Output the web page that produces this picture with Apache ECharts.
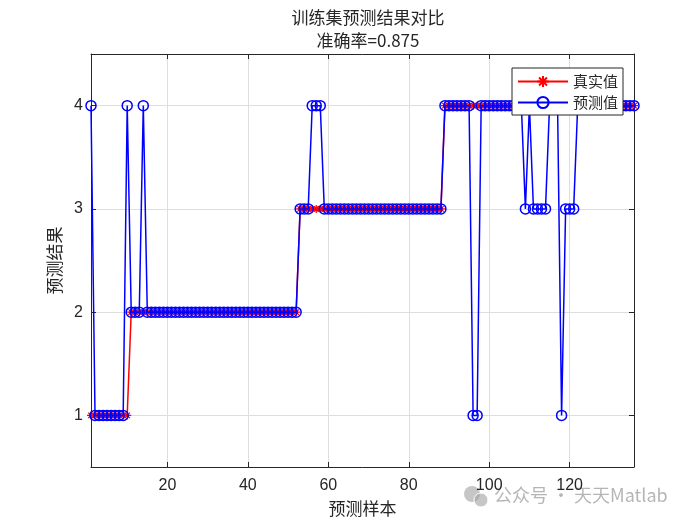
<!DOCTYPE html>
<html><head><meta charset="utf-8">
<script src="https://cdn.jsdelivr.net/npm/echarts@6/dist/echarts.min.js"></script>
<style>html,body{margin:0;padding:0;background:#fff}#c{width:700px;height:525px}</style>
</head><body><div id="c"></div>
<script>
var titleMain = '训练集预测结果对比';
var titleSub = '准确率=0.875';
var xName = '预测样本';
var yName = '预测结果';
var seriesNames = ['真实值', '预测值'];
var trueVals = [
1,1,1,1,1,1,1,1,1,1,
2,2,2,2,2,2,2,2,2,2,2,2,2,2,2,2,2,2,2,2,2,2,2,2,2,2,2,2,2,2,2,2,2,2,2,2,2,2,2,2,2,2,
3,3,3,3,3,3,3,3,3,3,3,3,3,3,3,3,3,3,3,3,3,3,3,3,3,3,3,3,3,3,3,3,3,3,3,3,
4,4,4,4,4,4,4,4,4,4,4,4,4,4,4,4,4,4,4,4,4,4,4,4,4,4,4,4,4,4,4,4,4,4,4,4,4,4,4,4,4,4,4,4,4,4,4,4
];
var predVals = [
4,1,1,1,1,1,1,1,1,4,
2,2,2,4,2,2,2,2,2,2,2,2,2,2,2,2,2,2,2,2,2,2,2,2,2,2,2,2,2,2,2,2,2,2,2,2,2,2,2,2,2,2,
3,3,3,4,4,4,3,3,3,3,3,3,3,3,3,3,3,3,3,3,3,3,3,3,3,3,3,3,3,3,3,3,3,3,3,3,
4,4,4,4,4,4,4,1,1,4,4,4,4,4,4,4,4,4,4,4,3,4,3,3,3,3,4,4,4,1,3,3,3,4,4,4,4,4,4,4,4,4,4,4,4,4,4,4
];
var xMin = 1, xMax = 136, yMin = 0.5, yMax = 4.5;
var watermark = '公众号 · 天天Matlab';

var chart = echarts.init(document.getElementById('c'));
function pairs(arr){ return arr.map(function(v,i){ return [i+1, v]; }); }
var axisCol = '#262626';
var cjk = '"Noto Sans CJK SC", sans-serif';
var num = '"Liberation Sans", Arial, sans-serif';
var starPath = 'path://M10 0 L10 20 M0 10 L20 10 M3 3 L17 17 M3 17 L17 3';
var frameX = {
  type:'value', min:xMin, max:xMax, splitNumber:7,
  axisLine:{show:true,onZero:false,lineStyle:{color:axisCol,width:1}},
  axisTick:{show:true,inside:true,length:5,lineStyle:{color:axisCol}},
  splitLine:{show:false}, axisLabel:{show:false}
};
var frameY = {
  type:'value', min:yMin, max:yMax, splitNumber:4,
  axisLine:{show:true,onZero:false,lineStyle:{color:axisCol,width:1}},
  axisTick:{show:true,inside:true,length:5,lineStyle:{color:axisCol}},
  splitLine:{show:false}, axisLabel:{show:false}
};
chart.setOption({
  animation:false,
  backgroundColor:'#fff',
  title:[
    {text:titleMain, left:363, top:4, textAlign:'center',
     textStyle:{fontFamily:cjk, fontSize:17, fontWeight:'normal', color:'#262626'}},
    {text:titleSub, left:363, top:27, textAlign:'center',
     textStyle:{fontFamily:cjk, fontSize:17, fontWeight:'normal', color:'#262626'}}
  ],
  grid:{left:91, right:66, top:54, bottom:58, containLabel:false},
  legend:{
    orient:'vertical', left:512, top:68,
    backgroundColor:'#fff', borderColor:axisCol, borderWidth:1, borderRadius:0,
    padding:[6,5,5,5], itemGap:6, itemWidth:50, itemHeight:14,
    textStyle:{fontFamily:cjk, fontSize:15, color:'#262626'},
    data:seriesNames
  },
  xAxis:[
    {type:'value', min:xMin, max:xMax, splitNumber:7,
     name:xName, nameLocation:'middle', nameGap:33,
     nameTextStyle:{fontFamily:cjk, fontSize:17, color:'#262626'},
     axisLine:{show:true,onZero:false,lineStyle:{color:axisCol,width:1}},
     axisTick:{show:true,inside:true,length:5,lineStyle:{color:axisCol}},
     axisLabel:{showMinLabel:false, showMaxLabel:false, margin:11,
       fontFamily:num, fontSize:16, color:'#262626'},
     splitLine:{show:true,lineStyle:{color:'#dedede',width:1}}},
    Object.assign({position:'top'}, frameX)
  ],
  yAxis:[
    {type:'value', min:yMin, max:yMax, splitNumber:4,
     name:yName, nameLocation:'middle', nameGap:25,
     nameTextStyle:{fontFamily:cjk, fontSize:17, color:'#262626'},
     axisLine:{show:true,onZero:false,lineStyle:{color:axisCol,width:1}},
     axisTick:{show:true,inside:true,length:5,lineStyle:{color:axisCol}},
     axisLabel:{showMinLabel:false, showMaxLabel:false, margin:8,
       fontFamily:num, fontSize:16, color:'#262626'},
     splitLine:{show:true,lineStyle:{color:'#dedede',width:1}}},
    Object.assign({position:'right'}, frameY)
  ],
  series:[
    {name:seriesNames[0], type:'line', data:pairs(trueVals), xAxisIndex:0, yAxisIndex:0,
     symbol:starPath, symbolSize:8, showAllSymbol:true,
     lineStyle:{color:'#ff0000', width:1.5},
     itemStyle:{color:'rgba(0,0,0,0)', borderColor:'#ff0000', borderWidth:1.2}, z:2},
    {name:seriesNames[1], type:'line', data:pairs(predVals), xAxisIndex:0, yAxisIndex:0,
     symbol:'circle', symbolSize:10, showAllSymbol:true,
     lineStyle:{color:'#0000ff', width:1.5},
     itemStyle:{color:'rgba(0,0,0,0)', borderColor:'#0000ff', borderWidth:1.5}, z:3}
  ],
  graphic:[
    {type:'group', left:464, top:486, z:100, children:[
      {type:'circle', shape:{cx:9, cy:8, r:8}, style:{fill:'rgba(160,160,160,0.6)'}},
      {type:'circle', shape:{cx:18, cy:14, r:7}, style:{fill:'rgba(160,160,160,0.6)', stroke:'#fff', lineWidth:1}},
      {type:'text', left:31, top:0, style:{text:watermark, fontFamily:cjk, fontSize:18,
        fill:'rgba(150,150,150,0.7)'}}
    ]}
  ]
});
</script></body></html>
